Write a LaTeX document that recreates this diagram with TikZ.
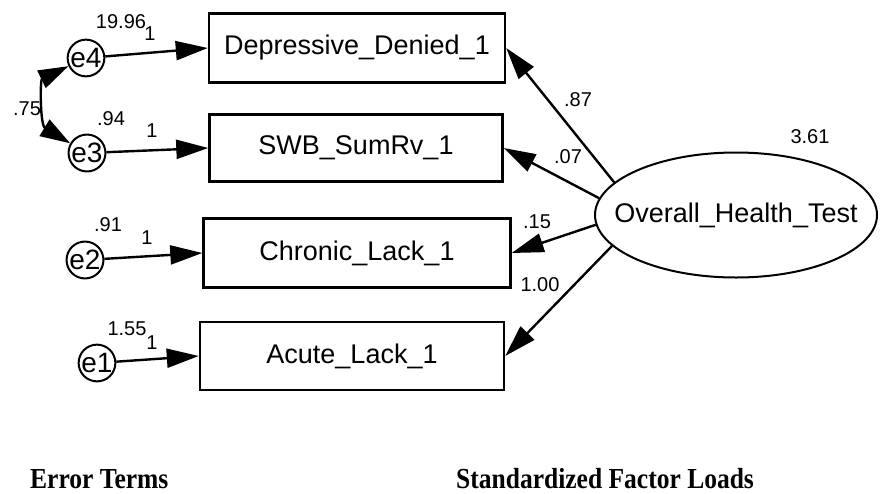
\documentclass[tikz,border=0pt]{standalone}
\usepackage{fontspec}
\setmainfont{Liberation Sans}
\newfontfamily\capfont{Liberation Serif}
\usetikzlibrary{shapes.geometric,arrows.meta}
\tikzset{
  obs/.style={draw,line width=2.4pt,rectangle,inner sep=0pt,minimum height=69pt,
    font=\fontsize{27}{32}\selectfont},
  lat/.style={draw,line width=2pt,ellipse,inner sep=0pt,minimum width=282pt,minimum height=125pt,
    font=\fontsize{27}{32}\selectfont},
  err/.style={draw,line width=2pt,circle,inner sep=0pt,minimum size=36pt,
    font=\fontsize{28}{32}\selectfont},
  link/.style={line width=2.4pt,-{Triangle[length=32pt,width=19pt]}},
  covlink/.style={line width=2.4pt,{Triangle[length=30pt,width=19pt]}-{Triangle[length=30pt,width=19pt]}},
  num/.style={font=\fontsize{20}{24}\selectfont,inner sep=0pt},
  captext/.style={font=\capfont\bfseries\fontsize{29}{34}\selectfont,inner sep=0pt,xscale=0.88}
}
\begin{document}
\begin{tikzpicture}[x=1pt,y=-1pt]
\path[use as bounding box,fill=white] (0,0) rectangle (886,493);

% observed indicators
\node[obs,minimum width=296pt] (dep) at (357,48) {Depressive\_Denied\_1};
\node[obs,minimum width=293pt,minimum height=67pt] (swb) at (356,148) {SWB\_SumRv\_1};
\node[obs,minimum width=307pt] (chr) at (357,253) {Chronic\_Lack\_1};
\node[obs,minimum width=304pt,minimum height=68pt] (acu) at (352,356) {Acute\_Lack\_1};

% latent factor (zero-width text box so the ellipse keeps its set size)
\node[lat] (oht) at (736,215) {\makebox[0pt]{Overall\_Health\_Test}};

% error terms
\node[err] (e4) at (86,58) {e4};
\node[err] (e3) at (87,153) {e3};
\node[err] (e2) at (85,260) {e2};
\node[err] (e1) at (97,363) {e1};

% error paths
\draw[link] (e4) -- (dep.west);
\draw[link] (e3) -- (swb.west);
\draw[link] (e2) -- (chr.west);
\draw[link] (e1) -- (acu.west);

% error covariance
\draw[covlink] (e4.205) .. controls (40,80) and (40,125) .. (e3.150);

% factor loadings
\draw[link] (oht.165) -- (dep.east);
\draw[link] (oht.173) -- (swb.east);
\draw[link] (oht.184) -- (chr.east);
\draw[link] (oht.194) -- (acu.east);

% estimates
\node[num] (v4) at (121,22) {19.96};
\node[num] (w4) at (150,34) {1};
\node[num] (v3) at (111,119) {.94};
\node[num] (w3) at (152,131) {1};
\node[num] (c43) at (27,109) {.75};
\node[num] (v2) at (108,225) {.91};
\node[num] (w2) at (147,238) {1};
\node[num] (v1) at (127,329) {1.55};
\node[num] (w1) at (152,343) {1};
\node[num] (l4) at (578,100) {.87};
\node[num] (l3) at (568,157) {.07};
\node[num] (l2) at (537,222) {.15};
\node[num] (l1) at (540,285) {1.00};
\node[num] (vf) at (810,137) {3.61};

% captions
\node[captext,anchor=base west] (capa) at (30,488) {Error Terms};
\node[captext,anchor=base west] (capb) at (456,488) {Standardized Factor Loads};
\end{tikzpicture}
\end{document}
